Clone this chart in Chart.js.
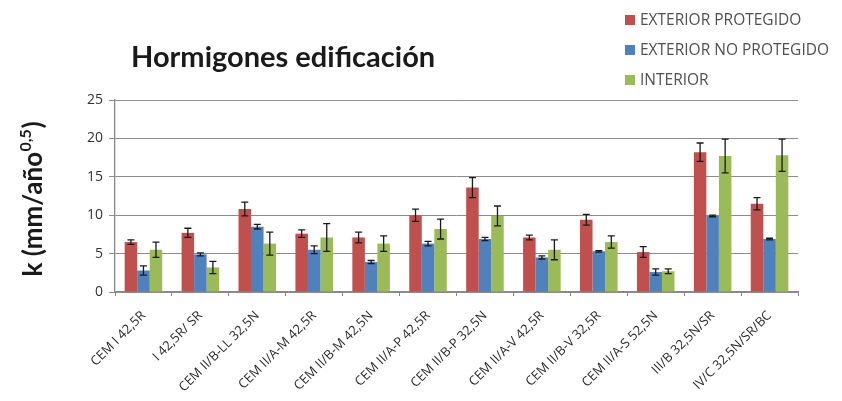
<!DOCTYPE html>
<html>
<head>
<meta charset="utf-8">
<script src="https://cdn.jsdelivr.net/npm/chart.js@4.4.1/dist/chart.umd.min.js"></script>
<style>
  html, body { margin: 0; padding: 0; background: #fff; }
  #wrap { width: 842px; height: 401px; position: relative; }
</style>
</head>
<body>
<div id="wrap"><canvas id="c" width="842" height="401"></canvas></div>
<script>
// Cement types
const categories = [
  "CEM I 42,5R", "I 42,5R/ SR", "CEM II/B-LL 32,5N", "CEM II/A-M 42,5R",
  "CEM II/B-M 42,5N", "CEM II/A-P 42,5R", "CEM II/B-P 32,5N", "CEM II/A-V 42,5R",
  "CEM II/B-V 32,5R", "CEM II/A-S 52,5N", "III/B 32,5N/SR", "IV/C 32,5N/SR/BC"
];
const seriesNames = ["EXTERIOR PROTEGIDO", "EXTERIOR NO PROTEGIDO", "INTERIOR"];

// Carbonation coefficient k (mm/año^0,5)
const exteriorProtegido   = [6.5, 7.7, 10.8, 7.6, 7.1, 10.0, 13.6, 7.1, 9.4, 5.2, 18.2, 11.5];
const exteriorNoProtegido = [2.8, 4.9, 8.5, 5.5, 3.9, 6.3, 6.9, 4.5, 5.3, 2.6, 9.9, 6.9];
const interior            = [5.5, 3.2, 6.3, 7.1, 6.3, 8.2, 9.9, 5.5, 6.5, 2.7, 17.7, 17.8];

// Error half-widths
const errExteriorProtegido   = [0.3, 0.6, 0.9, 0.5, 0.7, 0.8, 1.3, 0.3, 0.7, 0.7, 1.2, 0.8];
const errExteriorNoProtegido = [0.6, 0.2, 0.3, 0.5, 0.2, 0.3, 0.2, 0.2, 0.1, 0.4, 0.1, 0.1];
const errInterior            = [1.0, 0.8, 1.5, 1.8, 1.0, 1.3, 1.3, 1.3, 0.8, 0.3, 2.2, 2.1];

const yTicks = [0, 5, 10, 15, 20, 25];

const colors = ["#C0504D", "#4F81BD", "#9BBB59"];

// Error bars drawn on top of each bar through the y scale
const errorBars = {
  id: "errorBars",
  afterDatasetsDraw(chart) {
    const ctx = chart.ctx;
    const y = chart.scales.y;
    chart.data.datasets.forEach((ds, i) => {
      const meta = chart.getDatasetMeta(i);
      meta.data.forEach((bar, j) => {
        const v = ds.data[j], e = ds.errors[j];
        const top = y.getPixelForValue(v + e);
        const bot = y.getPixelForValue(v - e);
        ctx.save();
        ctx.strokeStyle = "#1a1a1a";
        ctx.lineWidth = 1.3;
        ctx.beginPath();
        ctx.moveTo(bar.x, top); ctx.lineTo(bar.x, bot);
        ctx.moveTo(bar.x - 3.5, top); ctx.lineTo(bar.x + 3.5, top);
        ctx.moveTo(bar.x - 3.5, bot); ctx.lineTo(bar.x + 3.5, bot);
        ctx.stroke();
        ctx.restore();
      });
    });
  }
};

// Title, legend and y-axis title
const decorations = {
  id: "decorations",
  afterDraw(chart) {
    const ctx = chart.ctx;
    ctx.save();
    // title
    ctx.fillStyle = "#1a1a1a";
    ctx.font = "bold 29px Lato, 'Open Sans', sans-serif";
    ctx.textBaseline = "alphabetic";
    ctx.textAlign = "left";
    ctx.fillText("Hormigones edificación", 131, 67);

    // legend
    const rows = [20, 50, 80];
    chart.data.datasets.forEach((ds, i) => {
      ctx.fillStyle = ds.backgroundColor;
      ctx.fillRect(625, rows[i] - 5, 10, 10);
      ctx.fillStyle = "#505050";
      ctx.font = "15.5px 'Open Sans', 'Liberation Sans', sans-serif";
      ctx.textBaseline = "middle";
      ctx.fillText(ds.label, 640, rows[i] + 1);
    });

    // y-axis title with superscript exponent
    ctx.translate(42, 199);
    ctx.rotate(-Math.PI / 2);
    ctx.fillStyle = "#1a1a1a";
    ctx.textBaseline = "alphabetic";
    const big = "bold 26px Lato, 'Open Sans', sans-serif";
    const small = "bold 16px Lato, 'Open Sans', sans-serif";
    const p1 = "k (mm/año", p2 = "0,5", p3 = ")";
    ctx.font = big; const w1 = ctx.measureText(p1).width; const w3 = ctx.measureText(p3).width;
    ctx.font = small; const w2 = ctx.measureText(p2).width;
    const total = w1 + w2 + w3 + 1;
    let x = -total / 2;
    ctx.font = big; ctx.fillText(p1, x, 0); x += w1;
    ctx.font = small; ctx.fillText(p2, x + 0.5, -11); x += w2 + 1;
    ctx.font = big; ctx.fillText(p3, x, 0);
    ctx.restore();
  }
};

const datasets = [exteriorProtegido, exteriorNoProtegido, interior].map((d, i) => ({
  label: seriesNames[i],
  data: d,
  errors: [errExteriorProtegido, errExteriorNoProtegido, errInterior][i],
  backgroundColor: colors[i],
  borderWidth: 0,
  categoryPercentage: 0.66,
  barPercentage: 1.0
}));

new Chart(document.getElementById("c"), {
  type: "bar",
  data: { labels: categories, datasets },
  options: {
    responsive: false,
    animation: false,
    devicePixelRatio: 1,
    layout: { padding: { left: 56, right: 44, top: 100, bottom: 0 } },
    plugins: { legend: { display: false }, tooltip: { enabled: false }, title: { display: false } },
    scales: {
      x: {
        grid: { display: true, drawOnChartArea: false, offset: true, color: "#888", tickLength: 4 },
        border: { color: "#888", width: 1.3 },
        ticks: {
          maxRotation: 45, minRotation: 45, autoSkip: false,
          color: "#2a2a2a", font: { family: "'Open Sans', 'Liberation Sans', sans-serif", size: 13 },
          padding: 12
        },
        afterFit(s) { s.height = 109; }
      },
      y: {
        min: 0, max: 25,
        afterBuildTicks(s) { s.ticks = yTicks.map(v => ({ value: v })); },
        grid: { color: "#8c8c8c", lineWidth: 1, tickLength: 6 },
        border: { color: "#888", width: 1.3 },
        ticks: { color: "#333", font: { family: "'Open Sans', 'Liberation Sans', sans-serif", size: 14 }, padding: 6 },
        afterFit(s) { s.width = 59; }
      }
    }
  },
  plugins: [errorBars, decorations]
});
</script>
</body>
</html>
